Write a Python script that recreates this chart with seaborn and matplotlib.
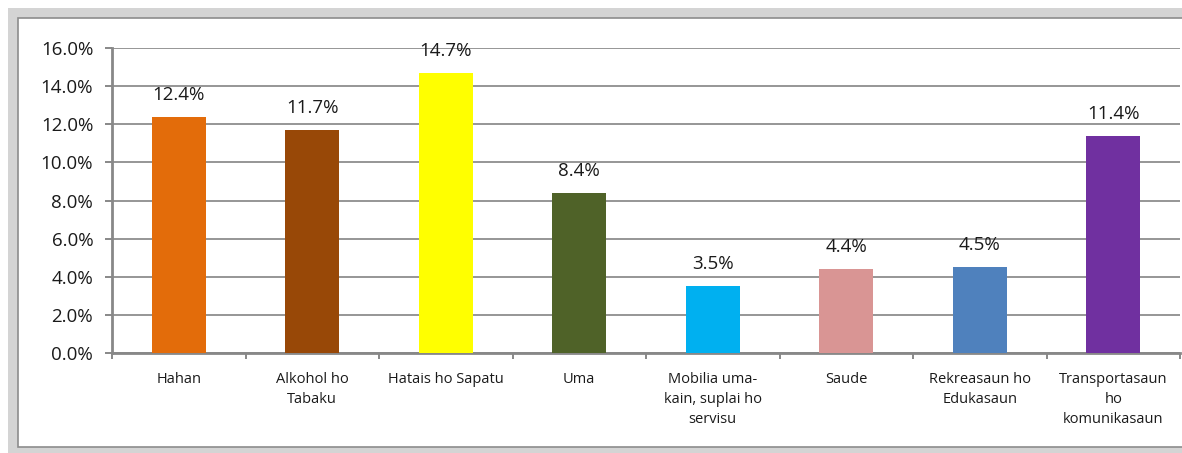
import numpy as np
import pandas as pd
import matplotlib.pyplot as plt
import matplotlib.patches as patches
from matplotlib.ticker import FuncFormatter, MultipleLocator
import seaborn as sns

# ===== data =====
kategoria = ["Hahan", "Alkohol ho\nTabaku", "Hatais ho Sapatu", "Uma",
             "Mobilia uma-\nkain, suplai ho\nservisu", "Saude",
             "Rekreasaun ho\nEdukasaun", "Transportasaun\nho\nkomunikasaun"]
persentajen = [12.4, 11.7, 14.7, 8.4, 3.5, 4.4, 4.5, 11.4]
kor = ["#E36C0A", "#984807", "#FFFF00", "#4F6228",
       "#00B0F0", "#D99594", "#4F81BD", "#7030A0"]

df = pd.DataFrame({"kategoria": kategoria, "valor": persentajen})

sns.set_theme(style="white")
plt.rcParams['font.family'] = ['Open Sans', 'DejaVu Sans']

fig = plt.figure(figsize=(11.82, 4.53), dpi=100)
W, H = 1182, 453

# ===== frame (gray border) =====
fig.patches.append(patches.Rectangle((8 / W, 0), 1, 1 - 8 / H, transform=fig.transFigure,
                                     facecolor="#d4d4d4", edgecolor="none", zorder=-3))
fig.patches.append(patches.Rectangle((18 / W, 6 / H), 1, 1 - 24 / H, transform=fig.transFigure,
                                     facecolor="white", edgecolor="#8c8c8c", linewidth=1.2, zorder=-2))

ax = fig.add_axes([112 / W, 100 / H, (1180 - 112) / W, (405 - 100) / H])
ax.set_facecolor("none")

sns.barplot(data=df, x="kategoria", y="valor", hue="kategoria", palette=kor,
            legend=False, width=0.405, saturation=1, linewidth=0, ax=ax, zorder=3)

# ===== value labels =====
for i, v in enumerate(persentajen):
    ax.text(i, v + 1.15, f"{v:.1f}%", ha="center", va="center", fontsize=13.5,
            color="#1a1a1a", zorder=4)

# ===== axes styling =====
ax.set_ylim(0, 16)
ax.set_xlim(-0.5, 7.5)
ax.yaxis.set_major_locator(MultipleLocator(2))
ax.yaxis.set_major_formatter(FuncFormatter(lambda y, _: f"{y:.1f}%"))
ax.yaxis.grid(True, color="#8e8e8e", linewidth=1.3, zorder=0)
ax.set_axisbelow(True)
ax.set_xlabel("")
ax.set_ylabel("")

for s in ["top", "right"]:
    ax.spines[s].set_visible(False)
for s in ["left", "bottom"]:
    ax.spines[s].set_color("#888888")
    ax.spines[s].set_linewidth(2)

ax.tick_params(axis="y", which="major", length=5, width=1.4, color="#888888",
               direction="out", left=True, pad=8.5, labelsize=13.5, labelcolor="#1a1a1a")
ax.tick_params(axis="x", which="major", length=0, pad=14, labelsize=10.5, labelcolor="#1a1a1a")
ax.set_xticks(np.arange(-0.5, 8, 1), minor=True)
ax.tick_params(axis="x", which="minor", length=4, width=1.4, color="#888888",
               direction="out", bottom=True)
for lbl in ax.get_xticklabels():
    lbl.set_linespacing(1.45)
    lbl.set_verticalalignment("top")

fig.savefig("out.png", dpi=100)
